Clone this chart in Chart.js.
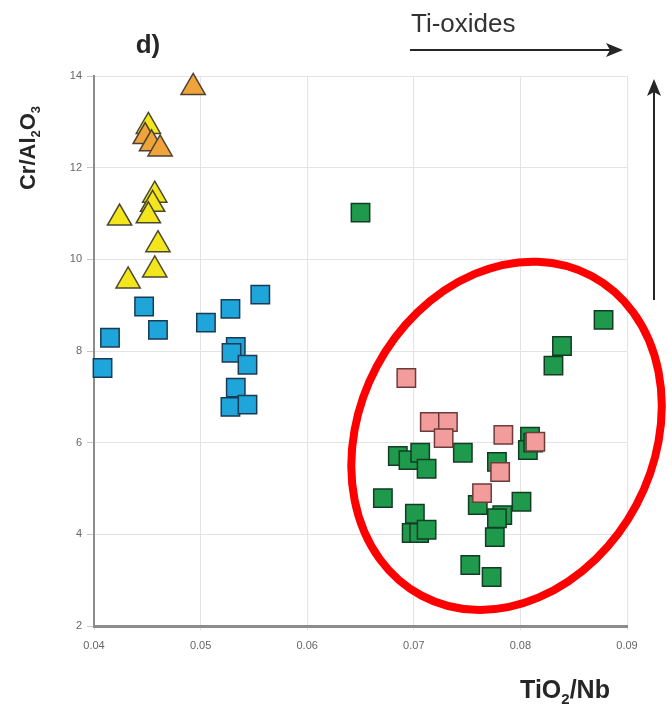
<!DOCTYPE html>
<html lang="en">
<head>
    <meta charset="UTF-8">
    <title>TiO2/Nb vs Cr/Al2O3</title>
    <script src="https://cdn.jsdelivr.net/npm/chart.js"></script>
    <style>
        body { margin: 0; background: #fff; }
    </style>
</head>
<body>
    <canvas id="chart" width="672" height="707"></canvas>
    <script>
        // axis ticks
        const xTicks = [0.04, 0.05, 0.06, 0.07, 0.08, 0.09];
        const yTicks = [2, 4, 6, 8, 10, 12, 14];

        // yellow triangles
        const yellowX = [0.0451, 0.0457, 0.0455, 0.0451, 0.0424, 0.0460, 0.0457, 0.0432];
        const yellowY = [12.9, 11.4, 11.2, 10.95, 10.9, 10.32, 9.77, 9.53];

        // orange triangles
        const orangeX = [0.0493, 0.0448, 0.0454, 0.0462];
        const orangeY = [13.75, 12.68, 12.52, 12.41];

        // blue squares
        const blueX = [0.0408, 0.0415, 0.0447, 0.0460, 0.0505, 0.0528, 0.0556, 0.0533, 0.0529, 0.0544, 0.0533, 0.0528, 0.0544];
        const blueY = [7.63, 8.29, 8.97, 8.46, 8.62, 8.92, 9.23, 8.09, 7.96, 7.70, 7.20, 6.78, 6.83];

        // green squares
        const greenX = [0.0650, 0.0878, 0.0839, 0.0831, 0.0809, 0.0807, 0.0812, 0.0778, 0.0746, 0.0685, 0.0695, 0.0706,
                        0.0712, 0.0671, 0.0701, 0.0698, 0.0705, 0.0712, 0.0753, 0.0773, 0.0760, 0.0801, 0.0783, 0.0778, 0.0776];
        const greenY = [11.02, 8.68, 8.11, 7.68, 6.13, 5.84, 6.0, 5.58, 5.78, 5.71, 5.62, 5.78,
                        5.43, 4.79, 4.45, 4.03, 4.03, 4.1, 3.33, 3.07, 4.64, 4.71, 4.42, 4.35, 3.94];

        // pink squares
        const pinkX = [0.0693, 0.0715, 0.0732, 0.0728, 0.0784, 0.0814, 0.0781, 0.0764];
        const pinkY = [7.41, 6.45, 6.45, 6.10, 6.17, 6.02, 5.36, 4.90];

        // red ellipse round the green/pink group (centre and radii in data units)
        const ringCenter = [0.0787, 6.15];
        const ringRadius = [0.0138, 3.95];
        const ringTilt = 28;

        const toPoints = (xs, ys) => xs.map((x, i) => ({ x: x, y: ys[i] }));

        const series = (pts, style, size, fill, stroke, order) => ({
            data: pts,
            pointStyle: style,
            pointRadius: size,
            pointHoverRadius: size,
            pointBackgroundColor: fill,
            pointBorderColor: stroke,
            pointBorderWidth: 1.5,
            clip: false,
            order: order
        });

        // draws a string where some parts are subscripts
        function drawRich(ctx, parts, x, y, size, align) {
            const big = 'bold ' + size + 'px "Liberation Sans", Arial, sans-serif';
            const small = 'bold ' + Math.round(size * 0.6) + 'px "Liberation Sans", Arial, sans-serif';
            let total = 0;
            parts.forEach(p => { ctx.font = p.sub ? small : big; total += ctx.measureText(p.t).width; });
            let cx = align === 'center' ? x - total / 2 : x;
            ctx.textAlign = 'left';
            ctx.textBaseline = 'alphabetic';
            parts.forEach(p => {
                ctx.font = p.sub ? small : big;
                ctx.fillText(p.t, cx, p.sub ? y + size * 0.22 : y);
                cx += ctx.measureText(p.t).width;
            });
        }

        function arrow(ctx, x1, y1, x2, y2) {
            const a = Math.atan2(y2 - y1, x2 - x1);
            ctx.beginPath();
            ctx.moveTo(x1, y1);
            ctx.lineTo(x2 - 10 * Math.cos(a), y2 - 10 * Math.sin(a));
            ctx.stroke();
            ctx.save();
            ctx.translate(x2, y2);
            ctx.rotate(a);
            ctx.beginPath();
            ctx.moveTo(0, 0);
            ctx.lineTo(-17, -7);
            ctx.lineTo(-13, 0);
            ctx.lineTo(-17, 7);
            ctx.closePath();
            ctx.fill();
            ctx.restore();
        }

        const decorations = {
            id: 'decorations',
            afterDatasetsDraw(chart) {
                const ctx = chart.ctx;
                const xs = chart.scales.x, ys = chart.scales.y;

                // red ellipse
                const cx = xs.getPixelForValue(ringCenter[0]);
                const cy = ys.getPixelForValue(ringCenter[1]);
                const rx = Math.abs(xs.getPixelForValue(ringCenter[0] + ringRadius[0]) - cx);
                const ry = Math.abs(ys.getPixelForValue(ringCenter[1] + ringRadius[1]) - cy);
                ctx.save();
                ctx.strokeStyle = '#ff0000';
                ctx.lineWidth = 8;
                ctx.beginPath();
                ctx.ellipse(cx, cy, rx, ry, ringTilt * Math.PI / 180, 0, Math.PI * 2);
                ctx.stroke();
                ctx.restore();

                ctx.save();
                ctx.fillStyle = '#262626';
                ctx.strokeStyle = '#262626';

                // panel letter
                ctx.font = 'bold 26px "Liberation Sans", Arial, sans-serif';
                ctx.textAlign = 'center';
                ctx.fillText('d)', 148, 53);

                // Ti-oxides trend arrow
                ctx.fillStyle = '#333';
                ctx.font = '26px "Liberation Sans", Arial, sans-serif';
                ctx.textAlign = 'left';
                ctx.fillText('Ti-oxides', 411, 32);
                ctx.fillStyle = '#262626';
                ctx.lineWidth = 2;
                arrow(ctx, 410, 50, 623, 50);

                // vertical arrow on the right
                arrow(ctx, 654, 300, 654, 79);

                // axis titles
                drawRich(ctx, [{ t: 'TiO' }, { t: '2', sub: true }, { t: '/Nb' }], 565, 698, 25, 'center');
                ctx.translate(35, 148);
                ctx.rotate(-Math.PI / 2);
                drawRich(ctx, [{ t: 'Cr/Al' }, { t: '2', sub: true }, { t: 'O' }, { t: '3', sub: true }], 0, 0, 22, 'center');
                ctx.restore();
            }
        };

        new Chart(document.getElementById('chart'), {
            type: 'scatter',
            data: {
                datasets: [
                    series(toPoints(pinkX, pinkY), 'rect', 13, '#f29c9c', '#6e3b3b', 1),
                    series(toPoints(greenX, greenY), 'rect', 13, '#1f9a4c', '#123d24', 2),
                    series(toPoints(orangeX, orangeY), 'triangle', 14, '#eea43a', '#4d4030', 3),
                    series(toPoints(yellowX, yellowY), 'triangle', 14, '#f3e61c', '#4a4730', 4),
                    series(toPoints(blueX, blueY), 'rect', 13, '#1ea5da', '#1b3a55', 5)
                ]
            },
            options: {
                responsive: false,
                animation: false,
                events: [],
                layout: { padding: { left: 54, right: 45, top: 76, bottom: 41 } },
                plugins: {
                    legend: { display: false },
                    tooltip: { enabled: false }
                },
                scales: {
                    x: {
                        type: 'linear',
                        min: xTicks[0],
                        max: xTicks[xTicks.length - 1],
                        afterBuildTicks: s => { s.ticks = xTicks.map(v => ({ value: v })); },
                        afterFit: s => { s.height = 40; },
                        ticks: {
                            callback: v => v.toFixed(2),
                            color: '#666',
                            font: { size: 11, family: '"Liberation Sans", Arial, sans-serif' },
                            padding: 9
                        },
                        grid: { color: '#e3e3e3', lineWidth: 1, tickLength: 4, tickColor: '#e3e3e3' },
                        border: { color: '#8c8c8c', width: 3 }
                    },
                    y: {
                        type: 'linear',
                        min: yTicks[0],
                        max: yTicks[yTicks.length - 1],
                        afterBuildTicks: s => { s.ticks = yTicks.map(v => ({ value: v })); },
                        afterFit: s => { s.width = 40; },
                        ticks: {
                            color: '#666',
                            font: { size: 11, family: '"Liberation Sans", Arial, sans-serif' },
                            padding: 5
                        },
                        grid: { color: '#e3e3e3', lineWidth: 1, tickLength: 7, tickColor: '#c8c8c8' },
                        border: { color: '#8c8c8c', width: 2 }
                    }
                }
            },
            plugins: [decorations]
        });
    </script>
</body>
</html>
